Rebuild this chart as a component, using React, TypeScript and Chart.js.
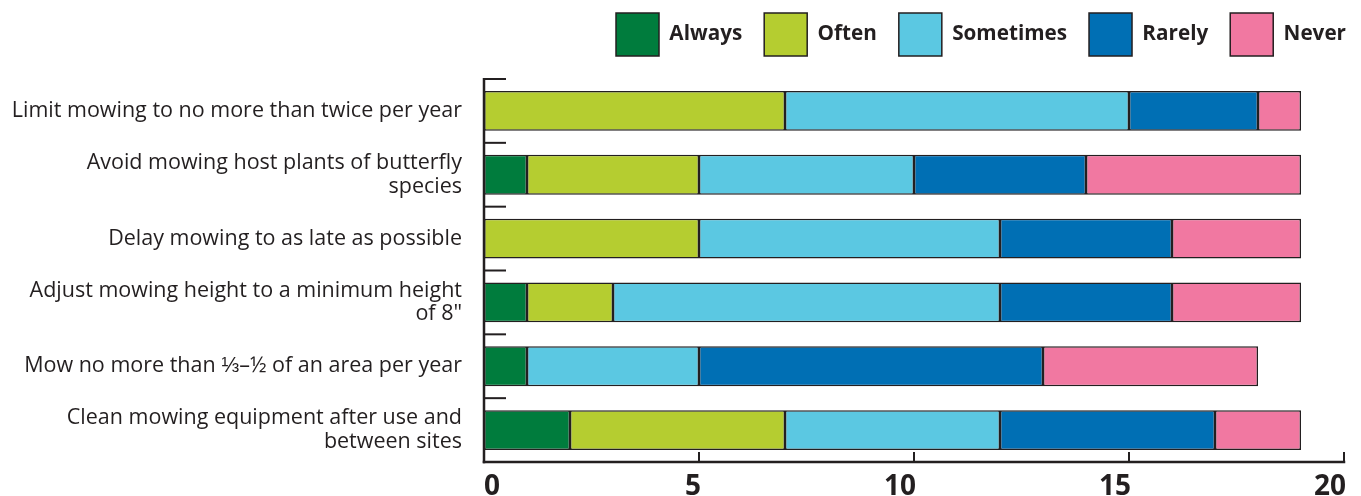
import React, { useEffect, useRef } from "react";
import { Chart, registerables } from "chart.js";

Chart.register(...registerables);

const categories: (string | string[])[] = [
  "Limit mowing to no more than twice per year",
  ["Avoid mowing host plants of butterfly", "species"],
  "Delay mowing to as late as possible",
  ["Adjust mowing height to a minimum height", "of 8\""],
  "Mow no more than ⅓–½ of an area per year",
  ["Clean mowing equipment after use and", "between sites"],
];

const seriesNames = ["Always", "Often", "Sometimes", "Rarely", "Never"];
const always = [0, 1, 0, 1, 1, 2];
const often = [7, 4, 5, 2, 0, 5];
const sometimes = [8, 5, 7, 9, 4, 5];
const rarely = [3, 4, 4, 4, 8, 5];
const never = [1, 5, 3, 3, 5, 2];
const seriesColors = ["#007c3d", "#b5cd30", "#5bc8e2", "#006fb4", "#f178a1"];
const xTicks = [0, 5, 10, 15, 20];
const xTickLabels = ["0", "5", "10", "15", "20"];

const FONT = "'Open Sans', sans-serif";
const INK = "#231f20";

const axesPlugin = {
  id: "customAxes",
  afterLayout(chart: any) {
    const lg = chart.legend;
    if (lg) {
      lg.left += 7;
      lg.right += 7;
      lg.top -= 13;
      lg.bottom -= 13;
    }
  },
  afterDatasetsDraw(chart: any) {
    const { ctx, chartArea, scales } = chart;
    const x = scales.x;
    const y = scales.y;
    const step = y.getPixelForValue(1) - y.getPixelForValue(0);
    const x0 = x.getPixelForValue(0);
    ctx.save();
    ctx.strokeStyle = INK;
    ctx.lineCap = "butt";
    const top = y.getPixelForValue(0) - step / 2;
    ctx.lineWidth = 2.5;
    ctx.beginPath();
    ctx.moveTo(x0, top - 1);
    ctx.lineTo(x0, chartArea.bottom + 1.25);
    ctx.stroke();
    ctx.beginPath();
    ctx.moveTo(x0 - 1.25, chartArea.bottom);
    ctx.lineTo(x.getPixelForValue(20) + 1.25, chartArea.bottom);
    ctx.stroke();
    ctx.lineWidth = 2;
    for (let i = 0; i < categories.length; i++) {
      const py = y.getPixelForValue(i) - step / 2;
      ctx.beginPath();
      ctx.moveTo(x0, py);
      ctx.lineTo(x0 + 22, py);
      ctx.stroke();
    }
    for (const v of xTicks) {
      if (v === 0) continue;
      const px = x.getPixelForValue(v);
      ctx.beginPath();
      ctx.moveTo(px, chartArea.bottom);
      ctx.lineTo(px, chartArea.bottom - 10);
      ctx.stroke();
    }
    ctx.fillStyle = INK;
    ctx.font = `bold 28px ${FONT}`;
    ctx.textBaseline = "alphabetic";
    xTicks.forEach((v, i) => {
      const px = x.getPixelForValue(v);
      ctx.textAlign = v === 0 ? "left" : "right";
      ctx.fillText(xTickLabels[i], v === 0 ? px : px + 2, chartArea.bottom + 33);
    });
    ctx.restore();
  },
};

export default function App() {
  const ref = useRef<HTMLCanvasElement>(null);
  useEffect(() => {
    const values = [always, often, sometimes, rarely, never];
    const chart = new Chart(ref.current!, {
      type: "bar",
      data: {
        labels: categories,
        datasets: seriesNames.map((name, i) => ({
          label: name,
          data: values[i],
          backgroundColor: seriesColors[i],
          borderColor: INK,
          borderWidth: 1.5,
          borderSkipped: false,
          barPercentage: 0.625,
          categoryPercentage: 1,
        })),
      },
      options: {
        indexAxis: "y",
        animation: false,
        responsive: false,
        maintainAspectRatio: false,
        layout: { padding: { left: 0, right: 0, top: 4, bottom: 0 } },
        plugins: {
          tooltip: { enabled: false },
          legend: {
            position: "top",
            align: "end",
            labels: {
              boxWidth: 43,
              boxHeight: 43,
              padding: 22,
              color: INK,
              font: { family: FONT, size: 20.7, weight: "bold" },
              generateLabels: (c: any) =>
                c.data.datasets.map((d: any, i: number) => ({
                  text: d.label,
                  fillStyle: d.backgroundColor,
                  strokeStyle: INK,
                  lineWidth: 1.5,
                  fontColor: INK,
                  datasetIndex: i,
                  hidden: false,
                })),
            },
          },
        },
        scales: {
          x: {
            stacked: true,
            min: 0,
            max: 20,
            grid: { display: false, drawTicks: false },
            border: { display: false },
            afterBuildTicks: (s: any) => {
              s.ticks = xTicks.map((v) => ({ value: v }));
            },
            afterFit: (s: any) => {
              s.height = 34;
              s.paddingLeft = 0;
              s.paddingRight = 17;
            },
            ticks: { display: false },
          },
          y: {
            stacked: true,
            grid: { display: false, drawTicks: false },
            border: { display: false },
            afterFit: (s: any) => {
              s.width = 484;
            },
            ticks: {
              padding: 22,
              color: INK,
              font: { family: FONT, size: 21.5, lineHeight: 1.1 },
            },
          },
        },
      },
      plugins: [axesPlugin],
    });
    return () => chart.destroy();
  }, []);
  return (
    <div style={{ position: "absolute", left: 0, top: 0, width: 1361, height: 496 }}>
      <canvas ref={ref} width={1361} height={496} style={{ width: 1361, height: 496 }} />
    </div>
  );
}
